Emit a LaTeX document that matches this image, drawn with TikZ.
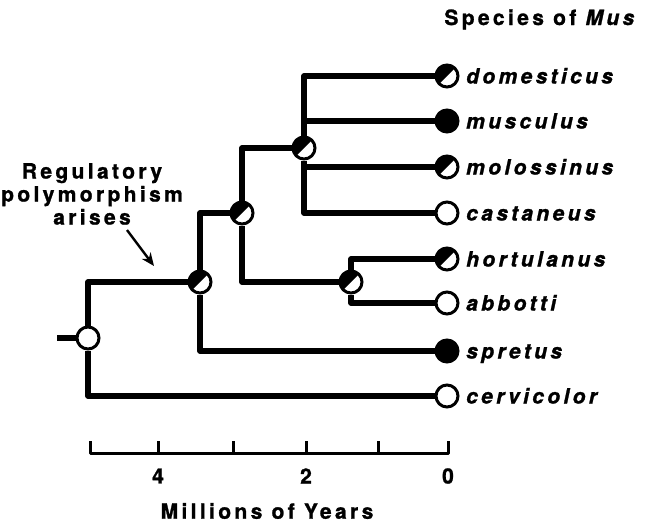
\documentclass[tikz,border=0pt]{standalone}
\usepackage{fontspec}
\setmainfont{TeX Gyre Heros}
\newfontfamily\spfont{TeX Gyre Heros}[LetterSpace=16, BoldFeatures={FakeBold=1.2}, BoldItalicFeatures={FakeBold=1.2}]
\usetikzlibrary{arrows.meta,positioning}

\begin{document}
\begin{tikzpicture}[x=1pt, y=-1pt,
  dot/.style={circle, draw, line width=3pt, minimum size=22pt, inner sep=0pt, fill=#1},
  half/.style={dot=white, path picture={\fill[black] (path picture bounding box.south west)
    -- (path picture bounding box.north west) -- (path picture bounding box.north east) -- cycle;}},
  br/.style={line width=5.6pt, line join=round},
  sp/.style={font=\spfont\fontsize{21}{23}\selectfont\bfseries\itshape, inner sep=0pt, anchor=base west},
  ttl/.style={font=\spfont\fontsize{21}{23}\selectfont\bfseries, inner sep=0pt, align=center},
  arr/.style={-{Stealth[length=13pt,width=11pt]}, line width=2.4pt}
]
\useasboundingbox (0,0) rectangle (654,522);
% internal nodes
\node[dot=white] (nroot) at (88,338) {};
\node[half] (nF) at (200,282) {};
\node[half] (nE) at (242,213) {};
\node[half] (nD) at (304,148) {};
\node[half] (nG) at (351,282) {};
% tips
\node[half]      (dom) at (447,76)  {};
\node[dot=black] (mus) at (447,121) {};
\node[half]      (mol) at (447,167) {};
\node[dot=white] (cas) at (447,213) {};
\node[half]      (hor) at (447,259) {};
\node[dot=white] (abb) at (447,303) {};
\node[dot=black] (spr) at (447,351) {};
\node[dot=white] (cer) at (447,396) {};
\foreach \t/\s in {dom/domesticus, mus/musculus, mol/molossinus, cas/castaneus,
    hor/hortulanus, abb/abbotti, spr/spretus, cer/cervicolor}
  \node[sp] (l\t) at ([xshift=19pt,yshift=-7.5pt]\t.center) {\s};
% branches
\coordinate (stub) at (57,338);
\draw[br] (stub) -- (nroot.west);
\draw[br] (nroot.north) |- (nF.west);
\draw[br] (nroot.south) |- (cer.west);
\draw[br] (nF.north) |- (nE.west);
\draw[br] (nF.south) |- (spr.west);
\draw[br] (nE.north) |- (nD.west);
\draw[br] (nE.south) |- (nG.west);
\draw[br] (nD.north) |- (dom.west);
\draw[br] (nD.north) |- (mus.west);
\draw[br] (nD.south) |- (mol.west);
\draw[br] (nD.south) |- (cas.west);
\draw[br] (nG.north) |- (hor.west);
\draw[br] (nG.south) |- (abb.west);
% heading and note
\node[ttl, anchor=base] (head) at (541,25) {Species of \textit{Mus}};
\node[ttl] (note) at (92,194) {Regulatory\\polymorphism\\arises};
\coordinate (tail) at (127,230);
\coordinate (tip) at (154,266);
\draw[arr] (tail) -- (tip);
% time scale
\draw[line width=3pt, line join=round] (90,441) |- (448,453) -- (448,441);
\foreach \x in {158,233,306,378}
  \draw[line width=3pt] (\x,453) -- (\x,441);
\node[ttl] (t4) at (158,476) {4};
\node[ttl] (t2) at (306,476) {2};
\node[ttl] (t0) at (448,476) {0};
\node[ttl] (axis) at (267,511) {Millions of Years};
\end{tikzpicture}
\end{document}
